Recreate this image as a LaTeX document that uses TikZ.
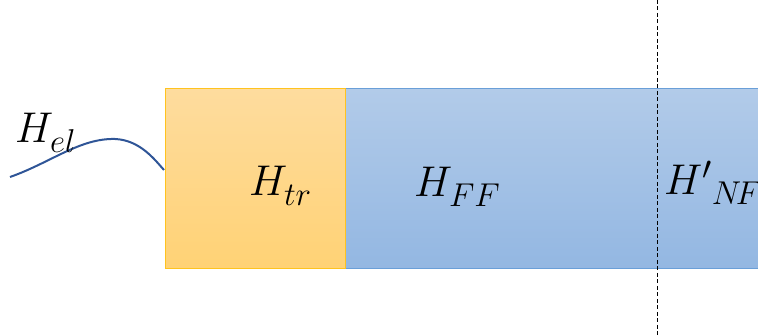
\documentclass[tikz,border=0pt]{standalone}
\usepackage{fix-cm}
\DeclareMathSizes{43}{43}{33}{26}
\definecolor{orTop}{HTML}{FEDC9E}
\definecolor{orBot}{HTML}{FFD275}
\definecolor{orLine}{HTML}{FFC31F}
\definecolor{blTop}{HTML}{B2CBE9}
\definecolor{blBot}{HTML}{93B7E2}
\definecolor{blLine}{HTML}{6A9FD8}
\definecolor{waveC}{HTML}{2F5597}
\tikzset{
  box/.style={rectangle, inner sep=0pt, outer sep=0pt, line width=1pt},
  lbl/.style={inner sep=0pt, anchor=base west, font=\fontsize{43}{50}\selectfont},
}
\newcommand{\lsub}[1]{_{\raisebox{-3pt}{$\scriptstyle #1$}}}
\begin{document}
\begin{tikzpicture}[x=1pt,y=-1pt]
\useasboundingbox (0,0) rectangle (758,336);
\clip (0,0) rectangle (758,336);
\node[box, minimum width=440pt, minimum height=180pt, anchor=north west,
      top color=blTop, bottom color=blBot, draw=blLine] (ff) at (345,89) {};
\node[box, minimum width=180pt, minimum height=180pt, anchor=north west,
      top color=orTop, bottom color=orBot, draw=orLine] (tr) at (165,89) {};
\coordinate (ws) at (10,177);
\coordinate (we) at (164,170);
\draw[waveC, line width=2pt] (ws) .. controls (50,163) and (80,138) .. (115,139)
   .. controls (140,140) and (155,160) .. (we);
\coordinate (dtop) at (657,0);
\coordinate (dbot) at (657,336);
\draw[black, line width=0.9pt, dash pattern=on 4pt off 2.5pt] (dtop) -- (dbot);
\node[lbl] (hel) at (15,143) {$H\lsub{el}$};
\node[lbl] (htr) at (249,196) {$H\lsub{tr}$};
\node[lbl] (hff) at (414,197) {$H\lsub{FF}$};
\node[lbl] (hnf) at (664,195) {${H'}\lsub{N\!F}$};
\end{tikzpicture}
\end{document}
